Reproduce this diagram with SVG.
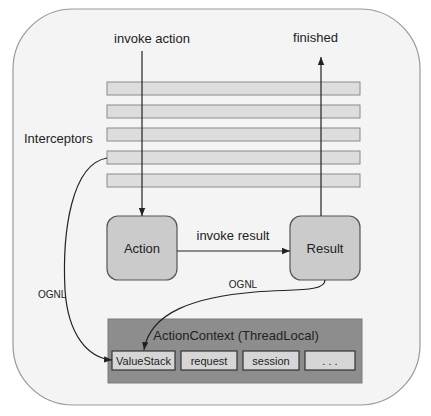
<svg xmlns="http://www.w3.org/2000/svg" width="431" height="416" viewBox="0 0 431 416">
  <defs>
    <marker id="arrow" viewBox="0 0 10 10" refX="10" refY="5" markerWidth="8" markerHeight="8" markerUnits="userSpaceOnUse" orient="auto">
      <path d="M0,1 L10,5 L0,9 Z" fill="#222"/>
    </marker>
    <style>
      text { font-family: "Liberation Sans", Arial, sans-serif; fill: #222; }
      .lbl { font-size: 13px; }
      .small { font-size: 10px; }
      .bar { fill: #dcdddc; stroke: #8a8a8a; stroke-width: 1; }
      .node { fill: #cbcbcc; stroke: #555; stroke-width: 1.2; }
      .slot { fill: #d6d6d7; stroke: #333; stroke-width: 1.2; }
      .edge { fill: none; stroke: #222; stroke-width: 1.2; }
    </style>
  </defs>

  <rect width="431" height="416" fill="#ffffff"/>

  <!-- container -->
  <g id="container">
    <rect x="13" y="9" width="407" height="396" rx="60" ry="60" fill="#f3f4f3" stroke="#999" stroke-width="1.2"/>
  </g>

  <!-- interceptor stack -->
  <g id="interceptors">
    <rect class="bar" x="107" y="82" width="253" height="13"/>
    <rect class="bar" x="107" y="105" width="253" height="13"/>
    <rect class="bar" x="107" y="128" width="253" height="13"/>
    <rect class="bar" x="107" y="151" width="253" height="13"/>
    <rect class="bar" x="107" y="174" width="253" height="13"/>
    <text class="lbl" x="24" y="143">Interceptors</text>
  </g>

  <g id="action">
    <rect class="node" x="107" y="216" width="70" height="64" rx="11" ry="11"/>
    <text class="lbl" x="142" y="253" text-anchor="middle">Action</text>
  </g>

  <g id="result">
    <rect class="node" x="290" y="216" width="70" height="64" rx="11" ry="11"/>
    <text class="lbl" x="325" y="253" text-anchor="middle">Result</text>
  </g>

  <g id="action-context">
    <rect x="108" y="319" width="254" height="64" fill="#8d8d8e" stroke="#7a7a7a" stroke-width="1"/>
    <text class="lbl" x="236" y="340" text-anchor="middle">ActionContext (ThreadLocal)</text>
    <g id="value-stack">
      <rect class="slot" x="112" y="351" width="63" height="19"/>
      <text x="143.5" y="364.5" font-size="11" text-anchor="middle">ValueStack</text>
    </g>
    <g id="request">
      <rect class="slot" x="181" y="351" width="56" height="19"/>
      <text x="209" y="364.5" font-size="11" text-anchor="middle">request</text>
    </g>
    <g id="session">
      <rect class="slot" x="243" y="351" width="56" height="19"/>
      <text x="271" y="364.5" font-size="11" text-anchor="middle">session</text>
    </g>
    <g id="more">
      <rect class="slot" x="305" y="351" width="50" height="19"/>
      <text x="330" y="364.5" font-size="11" text-anchor="middle">. . .</text>
    </g>
  </g>

  <!-- connectors -->
  <g id="connectors">
    <path class="edge" d="M142,51 L142,216" marker-end="url(#arrow)"/>
    <text class="lbl" x="152" y="43" text-anchor="middle">invoke action</text>

    <path class="edge" d="M321,216 L321,57" marker-end="url(#arrow)"/>
    <text class="lbl" x="315.5" y="42" text-anchor="middle">finished</text>

    <path class="edge" d="M177,251 L290,251" marker-end="url(#arrow)"/>
    <text class="lbl" x="233" y="240" text-anchor="middle">invoke result</text>

    <path class="edge" d="M107,158 C72,164 62,230 65,290 C68,335 88,358 112,360" marker-end="url(#arrow)"/>
    <text class="small" x="38" y="298">OGNL</text>

    <path class="edge" d="M325,280 C325,292 295,289 255,292 C195,297 150,312 144,350" marker-end="url(#arrow)"/>
    <text class="small" x="243" y="288" text-anchor="middle">OGNL</text>
  </g>
</svg>
